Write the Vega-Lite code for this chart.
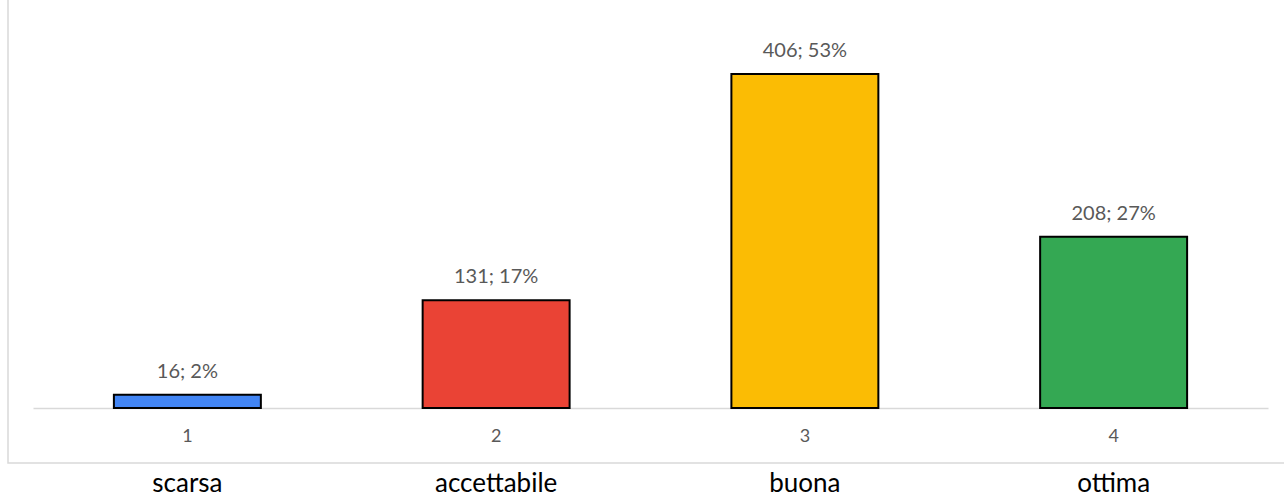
{
  "$schema": "https://vega.github.io/schema/vega-lite/v6.json",
  "autosize": {"type": "none"},
  "width": 1286,
  "height": 483,
  "padding": {"left": 8, "top": -20, "right": -10, "bottom": 34},
  "background": "white",
  "config": {
    "view": {"stroke": "#d9d9d9", "strokeWidth": 1.5},
    "font": "Lato"
  },
  "data": {
    "values": [
      {"name": "scarsa", "count": 16, "label": "16; 2%", "color": "#4285F4"},
      {"name": "accettabile", "count": 131, "label": "131; 17%", "color": "#EA4335"},
      {"name": "buona", "count": 406, "label": "406; 53%", "color": "#FBBC04"},
      {"name": "ottima", "count": 208, "label": "208; 27%", "color": "#34A853"}
    ]
  },
  "resolve": {"axis": {"x": "independent"}},
  "layer": [
    {
      "mark": {"type": "bar", "stroke": "black", "strokeWidth": 2},
      "encoding": {
        "x": {
          "field": "name", "type": "nominal", "sort": null,
          "scale": {"range": [25, 1260], "paddingInner": 0.524, "paddingOuter": 0.262},
          "axis": {
            "orient": "bottom", "offset": -55, "title": null,
            "labelExpr": "indexof(['scarsa','accettabile','buona','ottima'], datum.value) + 1",
            "labelAngle": 0, "labelFontSize": 18, "labelColor": "#595959", "labelFont": "Lato",
            "labelPadding": 19, "ticks": false, "tickSize": 0,
            "domainColor": "#d9d9d9", "domainWidth": 1.5, "grid": false
          }
        },
        "y": {
          "field": "count", "type": "quantitative",
          "scale": {"domain": [-66.85, 520.2], "nice": false, "zero": false},
          "axis": null
        },
        "color": {"field": "color", "type": "nominal", "scale": null}
      }
    },
    {
      "mark": {"type": "text", "fontSize": 20, "color": "#595959", "baseline": "alphabetic", "dy": -17, "font": "Lato"},
      "encoding": {
        "x": {
          "field": "name", "type": "nominal", "sort": null,
          "axis": {
            "orient": "bottom", "offset": 0, "title": null,
            "labelAngle": 0, "labelFontSize": 26, "labelColor": "black", "labelFont": "Lato",
            "labelBaseline": "alphabetic", "labelPadding": 28,
            "ticks": false, "tickSize": 0, "domain": false, "grid": false
          }
        },
        "y": {"field": "count", "type": "quantitative"},
        "text": {"field": "label"}
      }
    }
  ]
}
